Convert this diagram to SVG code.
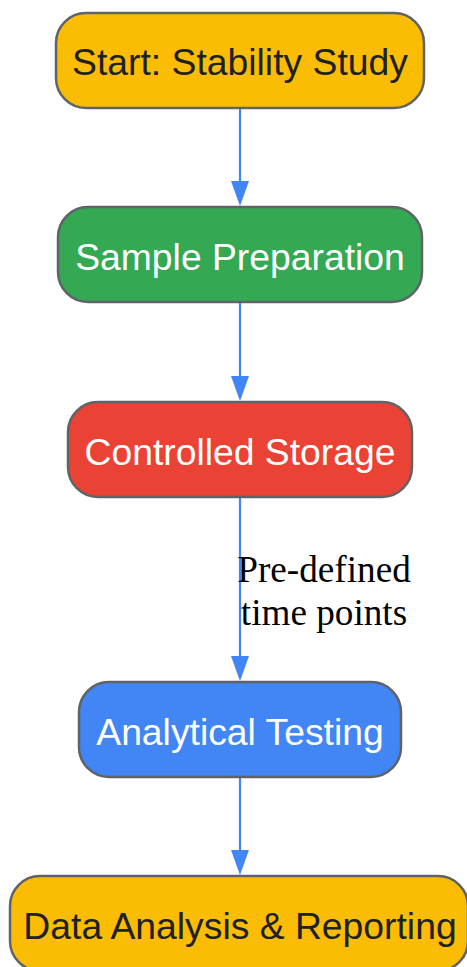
<svg xmlns="http://www.w3.org/2000/svg" width="467" height="967" viewBox="0 0 467 967">
<defs>
<style>
.box{stroke:#5f6368;stroke-width:2.5}
.lbl{font-family:"Liberation Sans",Arial,sans-serif;font-size:37.3px;text-anchor:middle}
.edge{stroke:#4285F4;stroke-width:2.2;fill:none}
.head{fill:#4285F4}
.elbl{font-family:"Liberation Serif","Times New Roman",serif;font-size:37.2px;fill:#000;text-anchor:middle}
</style>
</defs>
<rect width="467" height="967" fill="#fff"/>
<g id="connectors">
<line class="edge" x1="240" y1="108" x2="240" y2="184"/>
<polygon class="head" points="231,181 249,181 240,206"/>
<line class="edge" x1="240" y1="302" x2="240" y2="379"/>
<polygon class="head" points="231,376 249,376 240,401"/>
<line class="edge" x1="240" y1="497" x2="240" y2="659"/>
<polygon class="head" points="231,656 249,656 240,681"/>
<text class="elbl" x="324" y="582">Pre-defined</text>
<text class="elbl" x="324" y="625">time points</text>
<line class="edge" x1="240" y1="777" x2="240" y2="853"/>
<polygon class="head" points="231,850 249,850 240,875"/>
</g>
<g id="n1">
<rect class="box" x="56" y="13" width="368" height="95" rx="30" fill="#FBBC04"/>
<text class="lbl" x="240" y="75" fill="#202124">Start: Stability Study</text>
</g>
<g id="n2">
<rect class="box" x="58" y="207" width="364" height="95" rx="30" fill="#34A853"/>
<text class="lbl" x="240" y="270" fill="#fff">Sample Preparation</text>
</g>
<g id="n3">
<rect class="box" x="68" y="402" width="344" height="95" rx="30" fill="#EA4335"/>
<text class="lbl" x="240" y="465" fill="#fff">Controlled Storage</text>
</g>
<g id="n4">
<rect class="box" x="79" y="682" width="322" height="95" rx="30" fill="#4285F4"/>
<text class="lbl" x="240" y="745" fill="#fff">Analytical Testing</text>
</g>
<g id="n5">
<rect class="box" x="10" y="876" width="458" height="95" rx="30" fill="#FBBC04"/>
<text class="lbl" x="240" y="939" fill="#202124">Data Analysis &amp; Reporting</text>
</g>
</svg>
